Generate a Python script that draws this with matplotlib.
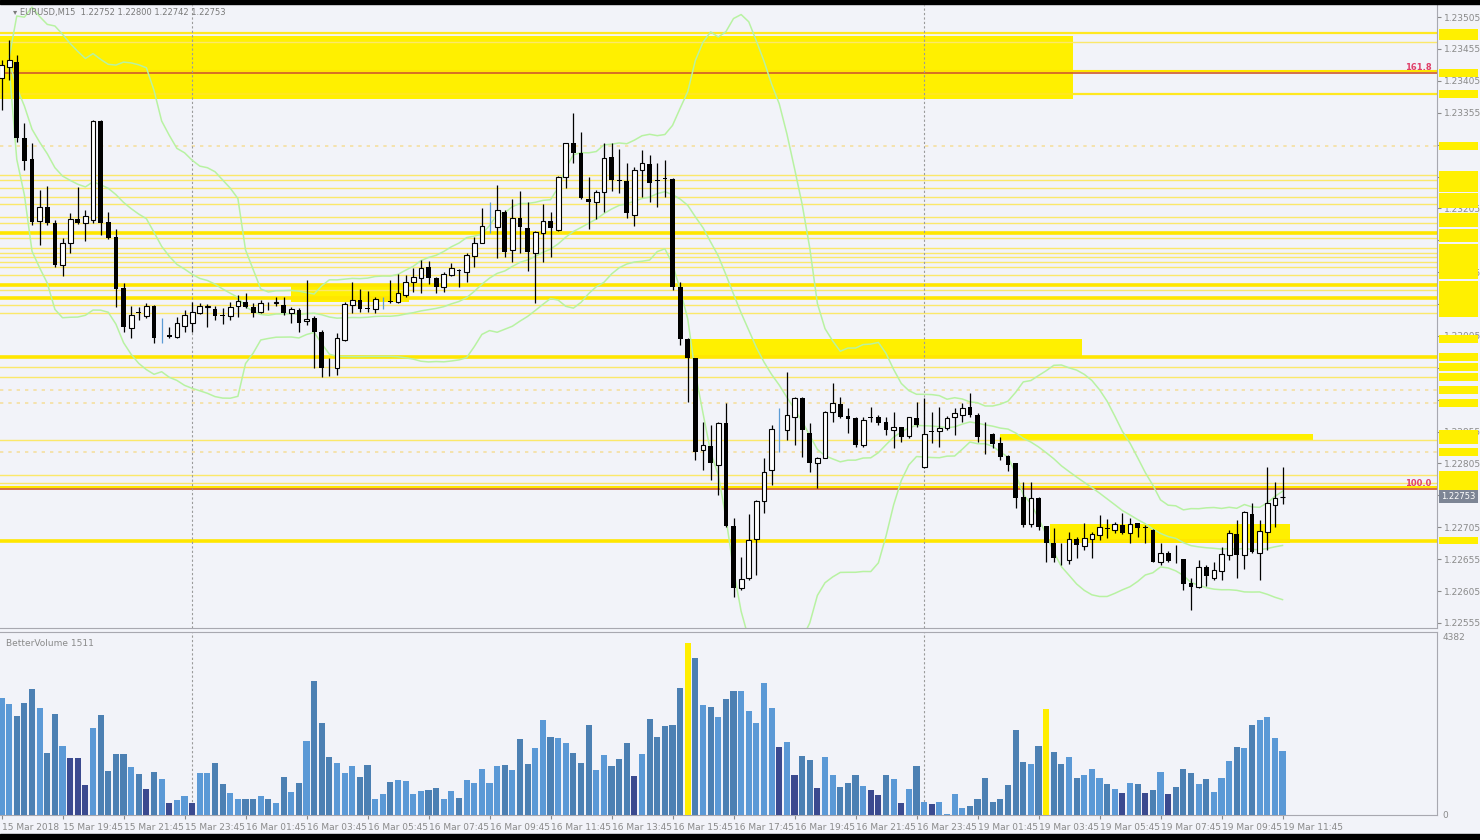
import numpy as np
import pandas as pd
import matplotlib
matplotlib.use('Agg')
import matplotlib.pyplot as plt
from matplotlib import transforms

# EURUSD M15, prices in points (1e-5)
opens = [123409, 123427, 123434, 123315, 123282, 123185, 123207, 123182, 123116, 123151,
         123188, 123182, 123187, 123342, 123184, 123160, 123080, 123017, 123042, 123036,
         123052, 122999, 123007, 123003, 123021, 123025, 123041, 123050, 123047, 123038,
         123036, 123052, 123058, 123050, 123043, 123057, 123057, 123054, 123041, 123046,
         123028, 123033, 123011, 122955, 122955, 122999, 123054, 123061, 123048, 123048,
         123057, 123060, 123058, 123069, 123090, 123096, 123113, 123096, 123082, 123101,
         123108, 123105, 123130, 123151, 123195, 123176, 123199, 123140, 123190, 123174,
         123135, 123166, 123185, 123171, 123254, 123307, 123292, 123220, 123215, 123231,
         123286, 123249, 123248, 123195, 123265, 123275, 123249, 123252, 123251, 123082,
         123000, 122970, 122826, 122833, 122803, 122869, 122707, 122610, 122626, 122687,
         122746, 122795, 122866, 122858, 122878, 122908, 122853, 122806, 122814, 122886,
         122898, 122880, 122877, 122834, 122877, 122878, 122870, 122858, 122862, 122848,
         122877, 122800, 122855, 122856, 122861, 122878, 122881, 122894, 122881, 122850,
         122851, 122837, 122817, 122806, 122753, 122710, 122751, 122707, 122681, 122657,
         122654, 122687, 122676, 122687, 122693, 122704, 122701, 122709, 122696, 122712,
         122706, 122701, 122651, 122665, 122654, 122655, 122618, 122612, 122643, 122626,
         122637, 122662, 122695, 122662, 122726, 122665, 122698, 122740, 122752]
highs = [123438, 123469, 123445, 123339, 123307, 123234, 123240, 123187, 123159, 123198,
         123239, 123203, 123344, 123344, 123199, 123173, 123088, 123052, 123050, 123057,
         123054, 123033, 123019, 123035, 123046, 123058, 123057, 123055, 123052, 123049,
         123058, 123069, 123072, 123057, 123061, 123058, 123066, 123066, 123050, 123049,
         123093, 123036, 123014, 122970, 123010, 123058, 123090, 123079, 123075, 123066,
         123066, 123093, 123102, 123101, 123112, 123124, 123123, 123097, 123105, 123119,
         123110, 123135, 123160, 123206, 123215, 123242, 123203, 123220, 123232, 123215,
         123169, 123212, 123199, 123256, 123308, 123355, 123325, 123254, 123234, 123307,
         123307, 123298, 123276, 123270, 123297, 123289, 123276, 123281, 123253, 123090,
         123002, 122970, 122870, 122866, 122870, 122900, 122720, 122659, 122726, 122748,
         122814, 122866, 122892, 122949, 122909, 122909, 122869, 122815, 122887, 122931,
         122909, 122892, 122878, 122878, 122894, 122881, 122878, 122886, 122862, 122878,
         122902, 122908, 122886, 122894, 122880, 122892, 122900, 122916, 122884, 122870,
         122853, 122847, 122819, 122806, 122776, 122776, 122753, 122707, 122704, 122681,
         122698, 122690, 122712, 122698, 122724, 122718, 122713, 122728, 122720, 122712,
         122709, 122702, 122681, 122667, 122677, 122655, 122626, 122654, 122646, 122651,
         122674, 122701, 122717, 122731, 122743, 122717, 122800, 122776, 122800]
lows = [123359, 123406, 123309, 123265, 123179, 123148, 123179, 123113, 123099, 123135,
        123181, 123154, 123182, 123163, 123157, 123050, 123011, 123002, 123030, 123033,
        122994, 122994, 123002, 123002, 123011, 123011, 123040, 123019, 123030, 123024,
        123030, 123035, 123049, 123035, 123041, 123046, 123052, 123038, 123025, 123011,
        123022, 122955, 122941, 122942, 122944, 122997, 123041, 123043, 123043, 123041,
        123047, 123057, 123057, 123066, 123074, 123072, 123087, 123072, 123074, 123099,
        123082, 123090, 123113, 123150, 123166, 123127, 123129, 123121, 123135, 123107,
        123057, 123121, 123129, 123170, 123237, 123276, 123219, 123173, 123188, 123199,
        123232, 123229, 123190, 123177, 123223, 123215, 123207, 123223, 123077, 122991,
        122902, 122811, 122795, 122779, 122756, 122706, 122596, 122607, 122623, 122630,
        122728, 122771, 122823, 122842, 122834, 122815, 122792, 122767, 122813, 122870,
        122877, 122853, 122831, 122831, 122870, 122866, 122850, 122829, 122839, 122845,
        122862, 122798, 122837, 122831, 122858, 122850, 122870, 122878, 122839, 122820,
        122829, 122811, 122793, 122735, 122706, 122706, 122701, 122651, 122651, 122646,
        122648, 122657, 122670, 122657, 122685, 122688, 122696, 122695, 122681, 122690,
        122681, 122650, 122646, 122651, 122649, 122607, 122575, 122610, 122613, 122623,
        122623, 122654, 122626, 122640, 122665, 122623, 122670, 122706, 122742]
closes = [123430, 123438, 123315, 123279, 123184, 123207, 123182, 123116, 123151, 123188,
          123182, 123193, 123342, 123182, 123159, 123079, 123019, 123038, 123041, 123052,
          123002, 122999, 123003, 123025, 123038, 123043, 123052, 123051, 123036, 123037,
          123050, 123060, 123050, 123041, 123057, 123056, 123058, 123041, 123047, 123025,
          123032, 123011, 122955, 122954, 123002, 123055, 123061, 123047, 123047, 123063,
          123057, 123059, 123072, 123090, 123097, 123112, 123096, 123082, 123102, 123112,
          123107, 123132, 123151, 123177, 123195, 123203, 123137, 123190, 123176, 123137,
          123168, 123185, 123174, 123254, 123307, 123292, 123221, 123215, 123231, 123284,
          123250, 123248, 123198, 123265, 123276, 123245, 123248, 123251, 123082, 123000,
          122970, 122823, 122834, 122806, 122869, 122707, 122610, 122624, 122685, 122746,
          122792, 122859, 122866, 122881, 122908, 122858, 122806, 122814, 122886, 122900,
          122878, 122875, 122834, 122873, 122876, 122869, 122858, 122862, 122847, 122878,
          122866, 122851, 122854, 122861, 122877, 122884, 122892, 122881, 122847, 122849,
          122836, 122815, 122803, 122751, 122709, 122751, 122706, 122681, 122657, 122656,
          122687, 122677, 122688, 122695, 122706, 122703, 122710, 122696, 122710, 122704,
          122704, 122651, 122665, 122652, 122653, 122616, 122612, 122643, 122629, 122638,
          122663, 122696, 122662, 122729, 122666, 122699, 122743, 122751, 122753]
volumes = [2870, 2720, 2430, 2740, 3090, 2620, 1520, 2470, 1690, 1400,
           1400, 735, 2130, 2450, 1080, 1490, 1490, 1180, 1000, 640,
           1050, 880, 300, 370, 470, 300, 1030, 1030, 1270, 760,
           540, 390, 390, 380, 470, 400, 300, 930, 560, 780,
           1810, 3280, 2250, 1420, 1270, 1030, 1200, 930, 1220, 390,
           510, 800, 860, 830, 510, 590, 610, 660, 390, 590,
           420, 860, 780, 1130, 780, 1200, 1220, 1100, 1860, 1250,
           1640, 2330, 1910, 1880, 1760, 1520, 1270, 2200, 1100, 1470,
           1200, 1370, 1760, 960, 1490, 2350, 1910, 2180, 2200, 3110,
           4210, 3850, 2700, 2650, 2400, 2840, 3040, 3040, 2550, 2250,
           3230, 2620, 1670, 1790, 980, 1450, 1350, 660, 1420, 980,
           690, 780, 980, 710, 610, 490, 980, 880, 290, 640,
           1200, 320, 270, 320, 30, 510, 170, 220, 390, 900,
           320, 390, 740, 2080, 1300, 1250, 1690, 2600, 1540, 1250,
           1420, 900, 980, 1130, 900, 760, 640, 540, 780, 760,
           540, 610, 1050, 510, 690, 1130, 1030, 760, 880, 560,
           900, 1320, 1670, 1640, 2200, 2330, 2400, 1880, 1570]
blue_doji = [21, 50, 64, 102]
vol_yellow = [90, 137]
vol_dark = [9, 10, 11, 19, 22, 25, 83, 102, 104, 107, 114, 115, 118, 122, 147, 150, 153]

# support / resistance levels (points)
bold_levels = [123166, 123085, 123065, 122972, 122684]
mid_levels = [123480, 123384]
thin_levels = [123466, 123257, 123250, 123237, 123223, 123212, 123192, 123182, 123159,
               123143, 123135, 123129, 123121, 123113, 123101, 123077, 123054, 123041,
               122956, 122941, 122842, 122787, 122775, 122768]
pale_levels = [123303, 122920, 122900, 122823]
fib_levels = [123417, 122765]
fib_names = ['161.8', '100.0']
# zones: start bar, end bar, low, high
zones = [(-0.2, 140.5, 123376, 123475),
         (90.3, 141.7, 122974, 123000),
         (131.0, 172.0, 122842, 122852),
         (137.5, 169.0, 122681, 122710),
         (38.0, 53.5, 123058, 123085)]
# price scale labels left readable between the level tags
shown_ticks = [123505, 123455, 123405, 123355, 123205, 123105, 123005,
               122855, 122805, 122705, 122655, 122605, 122555]

n = len(closes)
o = np.array(opens) / 1e5
h = np.array(highs) / 1e5
l = np.array(lows) / 1e5
c = np.array(closes) / 1e5
x = np.arange(n)

times = []
t = pd.Timestamp('2018-03-15 17:45')
for i in range(n):
    times.append(t)
    t += pd.Timedelta(minutes=15)
    if t == pd.Timestamp('2018-03-17 00:00'):
        t = pd.Timestamp('2018-03-19 00:00')

bg = '#f2f3f9'
grey = '#8a8a8a'
fig = plt.figure(figsize=(14.8, 8.4), dpi=100, facecolor=bg)
ax = fig.add_axes([0, 1 - 628 / 840, 1437 / 1480, 623 / 840], facecolor=bg)
axv = fig.add_axes([0, 1 - 815 / 840, 1437 / 1480, 183 / 840], facecolor=bg)

xlim = (-0.2, 188.26)
ax.set_xlim(*xlim)
ax.set_ylim(1.22547, 1.23524)

# zones and levels
for x0, x1, lo, hi in zones:
    ax.fill_between([x0, x1], lo / 1e5, hi / 1e5, color='#fff000', lw=0, zorder=1)
for p in thin_levels:
    ax.axhline(p / 1e5, color='#fbe86a', lw=1.0, zorder=1.2)
for p in pale_levels:
    ax.axhline(p / 1e5, color='#f5dfa0', lw=1.2, ls=(0, (2, 3)), zorder=1.2)
for p in mid_levels:
    ax.axhline(p / 1e5, color='#ffe820', lw=1.6, zorder=1.3)
for p in bold_levels:
    ax.axhline(p / 1e5, color='#ffe600', lw=2.6, zorder=1.3)
ytr = transforms.blended_transform_factory(ax.transAxes, ax.transData)
for p, name in zip(fib_levels, fib_names):
    ax.axhline(p / 1e5 + 0.00003, color='#ffe600', lw=1.5, zorder=1.3)
    ax.axhline(p / 1e5, color='#cf5a2c', lw=1.2, zorder=1.4)
    ax.text(0.996, p / 1e5 + 0.00002, name, transform=ytr,
            ha='right', va='bottom', fontsize=6, color='#e0406a', fontweight='bold', zorder=6)

# bollinger bands 20,2
cs = pd.Series(c)
mid = cs.rolling(20, min_periods=2).mean()
sd = cs.rolling(20, min_periods=2).std(ddof=0)
for band in (mid, mid + 2 * sd, mid - 2 * sd):
    ax.plot(x, band, color='#b8f2a2', lw=1.1, zorder=2)

# candles
up = c >= o
wick_col = ['#5b9bd5' if i in blue_doji else 'black' for i in range(n)]
ax.vlines(x, l, h, colors=wick_col, lw=0.9, zorder=3)
solid = np.array([i not in blue_doji for i in range(n)])
body_lo = np.minimum(o, c)
body_h = np.maximum(np.abs(c - o), 0.000012)
m = up & solid
ax.bar(x[m], body_h[m], bottom=body_lo[m], width=0.62, facecolor='white', edgecolor='black', lw=0.8, zorder=4)
m = ~up & solid
ax.bar(x[m], body_h[m], bottom=body_lo[m], width=0.62, color='black', lw=0, zorder=4)

# day separators
for i in range(1, n):
    if times[i].date() != times[i - 1].date():
        for a in (ax, axv):
            a.axvline(i, color='#9a9a9a', lw=0.8, ls=(0, (2, 2)), zorder=1.5)

# right price axis
ticks = np.arange(122555, 123506, 50)
ax.yaxis.tick_right()
ax.set_yticks(ticks / 1e5)
ax.set_yticklabels(['%.5f' % (v / 1e5) if v in shown_ticks else '' for v in ticks])
ax.tick_params(axis='y', labelsize=6.5, colors=grey, length=3, pad=2)
ax.set_xticks([])
for s in ('top', 'left'):
    ax.spines[s].set_visible(False)
for s in ('right', 'bottom'):
    ax.spines[s].set_color('#a8a8b0')

# yellow level tags on the price scale (under the scale labels)
tag_h = 0.00012
for p in thin_levels[1:] + pale_levels + mid_levels + bold_levels + fib_levels + [z[3] for z in zones[:3]]:
    ax.add_patch(plt.Rectangle((1.0015, p / 1e5 - tag_h / 2), 0.027, tag_h, transform=ytr,
                               fc='#fff000', ec='none', clip_on=False, zorder=2.4))
ax.text(1.003, c[-1], '%.5f' % c[-1], transform=ytr, ha='left', va='center', fontsize=6,
        color='white', clip_on=False, zorder=8,
        bbox=dict(boxstyle='square,pad=0.25', fc='#7d8595', ec='none'))

# volume panel
vcol = []
for i in range(n):
    if i in vol_yellow:
        vcol.append('#ffee00')
    elif i in vol_dark:
        vcol.append('#3b4a8f')
    elif up[i]:
        vcol.append('#5b99d6')
    else:
        vcol.append('#4c80b3')
axv.bar(x, volumes, width=0.8, color=vcol, lw=0, zorder=3)
axv.set_xlim(*xlim)
axv.set_ylim(0, 4480)
axv.yaxis.tick_right()
axv.set_yticks([0, 4382])
axv.set_yticklabels(['0', '4382'])
axv.tick_params(axis='y', labelsize=6.5, colors=grey, length=0, pad=4)
tick_idx = list(range(0, n, 8))
labels = [times[i].strftime('%d %b %H:%M') for i in tick_idx]
labels[0] = times[0].strftime('%d %b %Y')
axv.set_xticks(tick_idx)
axv.set_xticklabels(labels, ha='left')
axv.tick_params(axis='x', labelsize=6.5, colors=grey, length=3, pad=3)
axv.spines['left'].set_visible(False)
for s in ('right', 'bottom', 'top'):
    axv.spines[s].set_color('#a8a8b0')
axv.text(0.004, 0.96, 'BetterVolume 1511', transform=axv.transAxes, fontsize=6.5, color=grey, va='top')

fig.text(0.009, 1 - 13 / 840, '\u25be EURUSD,M15  1.22752 1.22800 1.22742 1.22753', fontsize=6,
         color='#7a7a7a', va='center')

# scan borders
fig.patches.append(plt.Rectangle((0, 1 - 4 / 840), 1, 4 / 840, transform=fig.transFigure, color='black'))
fig.patches.append(plt.Rectangle((0, 0), 1, 6 / 840, transform=fig.transFigure, color='black'))

fig.savefig('out.png', dpi=100, facecolor=bg)
